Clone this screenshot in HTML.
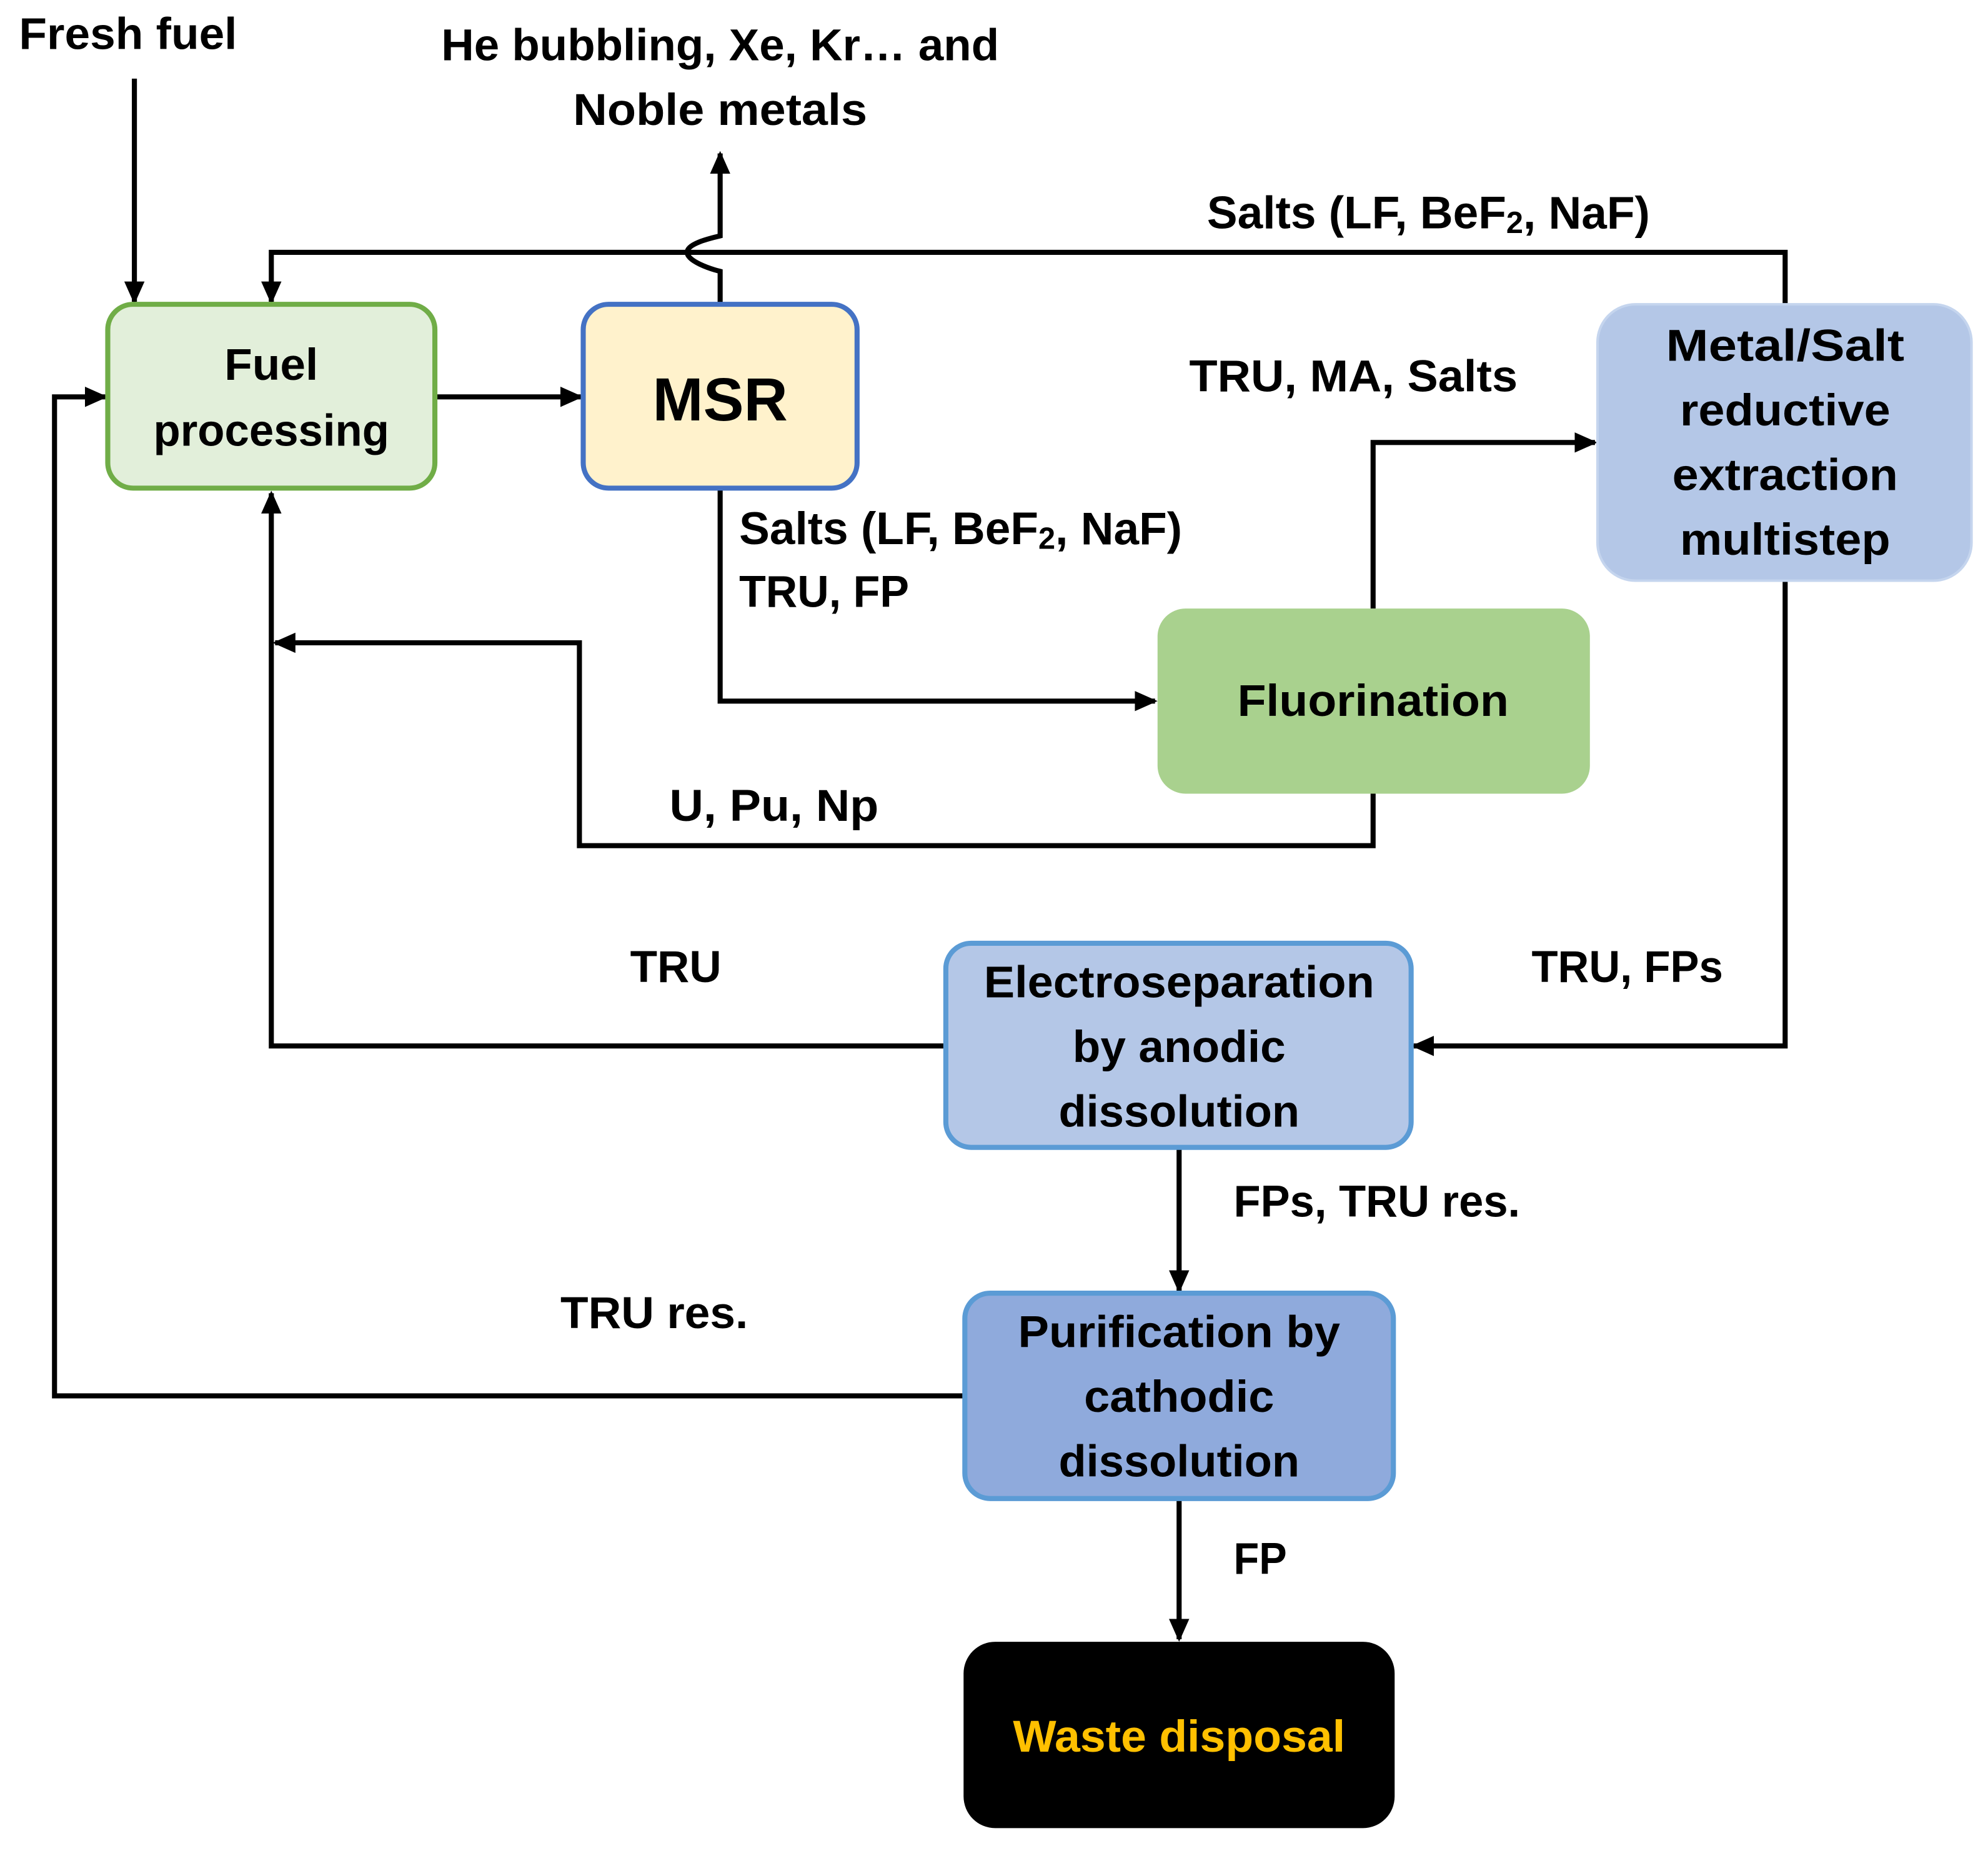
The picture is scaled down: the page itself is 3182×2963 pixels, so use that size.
<!DOCTYPE html>
<html><head><meta charset="utf-8"><style>html,body{margin:0;padding:0;background:#fff}svg{display:block}</style></head>
<body>
<svg width="3182" height="2963" viewBox="0 0 1568 1460" xmlns="http://www.w3.org/2000/svg" font-family="Liberation Sans, sans-serif" font-weight="bold">
<defs>
<marker id="a" markerWidth="4.5" markerHeight="4" refX="4" refY="2" orient="auto" markerUnits="strokeWidth"><path d="M0,0 L4.5,2 L0,4 z" fill="#000"/></marker>
</defs>
<g fill="none" stroke="#000" stroke-width="4">
<line x1="106" y1="62" x2="106" y2="238" marker-end="url(#a)"/>
<line x1="343" y1="313" x2="458" y2="313" marker-end="url(#a)"/>
<path d="M568,240 L568,214 C560,212 542,206 542,199 C542,192 560,188 568,186 L568,121" marker-end="url(#a)"/>
<path d="M1408,240 L1408,199 L214,199 L214,238" marker-end="url(#a)"/>
<path d="M1083,480 L1083,349 L1258,349" marker-end="url(#a)"/>
<path d="M568,385 L568,553 L911,553" marker-end="url(#a)"/>
<path d="M1083,626 L1083,667 L457,667 L457,507 L217,507" marker-end="url(#a)"/>
<path d="M746,825 L214,825 L214,389" marker-end="url(#a)"/>
<path d="M1408,458 L1408,825 L1115,825" marker-end="url(#a)"/>
<line x1="930" y1="905" x2="930" y2="1018" marker-end="url(#a)"/>
<path d="M761,1101 L43,1101 L43,313 L83,313" marker-end="url(#a)"/>
<line x1="930" y1="1182" x2="930" y2="1293" marker-end="url(#a)"/>
</g>
<rect x="85" y="240" width="258" height="145" rx="20" fill="#e2efda" stroke="#70ad47" stroke-width="4"/>
<rect x="460" y="240" width="216" height="145" rx="20" fill="#fff2cc" stroke="#4472c4" stroke-width="4"/>
<rect x="1260" y="240" width="295" height="218" rx="30" fill="#b4c7e7" stroke="#c5d5ee" stroke-width="2"/>
<rect x="913" y="480" width="341" height="146" rx="22" fill="#a9d18e"/>
<rect x="746" y="744" width="367" height="161" rx="20" fill="#b4c7e7" stroke="#5b9bd5" stroke-width="4"/>
<rect x="761" y="1020" width="338" height="162" rx="20" fill="#8faadc" stroke="#5b9bd5" stroke-width="4"/>
<rect x="760" y="1295" width="340" height="147" rx="25" fill="#000"/>
<g font-size="35" fill="#000" dominant-baseline="central">
<text x="15" y="27" textLength="172" lengthAdjust="spacingAndGlyphs">Fresh fuel</text>
<text x="568" y="36" text-anchor="middle" textLength="440" lengthAdjust="spacingAndGlyphs">He bubbling, Xe, Kr… and</text>
<text x="568" y="87" text-anchor="middle" textLength="232" lengthAdjust="spacingAndGlyphs">Noble metals</text>
<text x="952" y="168" font-size="36">Salts (LF, BeF<tspan font-size="24" dy="8">2</tspan><tspan dy="-8">, NaF)</tspan></text>
<text x="214" y="288" text-anchor="middle" textLength="74" lengthAdjust="spacingAndGlyphs">Fuel</text>
<text x="214" y="340" text-anchor="middle" textLength="186" lengthAdjust="spacingAndGlyphs">processing</text>
<text x="568" y="315" text-anchor="middle" font-size="48">MSR</text>
<text x="938" y="297" textLength="259" lengthAdjust="spacingAndGlyphs">TRU, MA, Salts</text>
<text x="1408" y="273" text-anchor="middle" textLength="188" lengthAdjust="spacingAndGlyphs">Metal/Salt</text>
<text x="1408" y="324" text-anchor="middle" textLength="166" lengthAdjust="spacingAndGlyphs">reductive</text>
<text x="1408" y="375" text-anchor="middle" textLength="178" lengthAdjust="spacingAndGlyphs">extraction</text>
<text x="1408" y="426" text-anchor="middle" textLength="166" lengthAdjust="spacingAndGlyphs">multistep</text>
<text x="583" y="417" font-size="36">Salts (LF, BeF<tspan font-size="24" dy="8">2</tspan><tspan dy="-8">, NaF)</tspan></text>
<text x="583" y="467" textLength="134" lengthAdjust="spacingAndGlyphs">TRU, FP</text>
<text x="1083" y="553" text-anchor="middle" textLength="214" lengthAdjust="spacingAndGlyphs">Fluorination</text>
<text x="528" y="636" textLength="165" lengthAdjust="spacingAndGlyphs">U, Pu, Np</text>
<text x="497" y="763" textLength="72" lengthAdjust="spacingAndGlyphs">TRU</text>
<text x="1208" y="763" textLength="151" lengthAdjust="spacingAndGlyphs">TRU, FPs</text>
<text x="930" y="775" text-anchor="middle" textLength="308" lengthAdjust="spacingAndGlyphs">Electroseparation</text>
<text x="930" y="826" text-anchor="middle" textLength="168" lengthAdjust="spacingAndGlyphs">by anodic</text>
<text x="930" y="877" text-anchor="middle" textLength="190" lengthAdjust="spacingAndGlyphs">dissolution</text>
<text x="973" y="948" textLength="226" lengthAdjust="spacingAndGlyphs">FPs, TRU res.</text>
<text x="442" y="1036" textLength="148" lengthAdjust="spacingAndGlyphs">TRU res.</text>
<text x="930" y="1051" text-anchor="middle" textLength="254" lengthAdjust="spacingAndGlyphs">Purification by</text>
<text x="930" y="1102" text-anchor="middle" textLength="150" lengthAdjust="spacingAndGlyphs">cathodic</text>
<text x="930" y="1153" text-anchor="middle" textLength="190" lengthAdjust="spacingAndGlyphs">dissolution</text>
<text x="973" y="1230" textLength="42" lengthAdjust="spacingAndGlyphs">FP</text>
<text x="930" y="1370" text-anchor="middle" fill="#ffc000" textLength="262" lengthAdjust="spacingAndGlyphs">Waste disposal</text>
</g>
</svg>
</body></html>
